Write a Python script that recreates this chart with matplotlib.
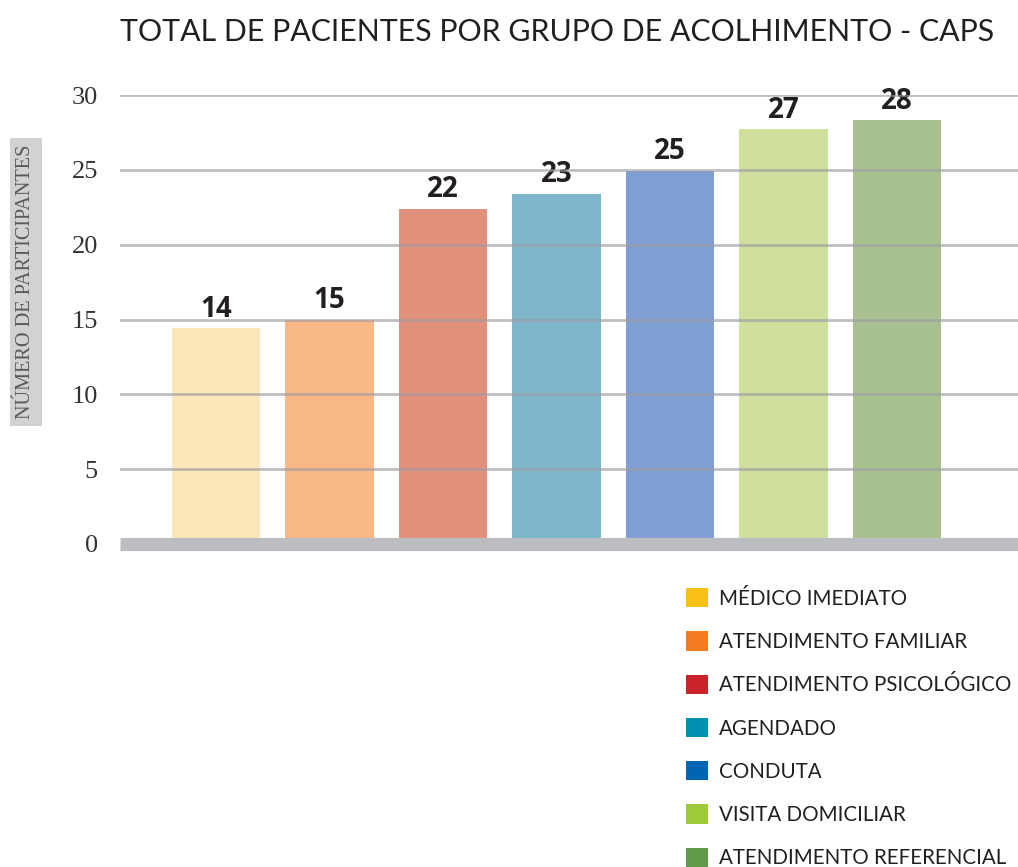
import matplotlib.pyplot as plt
from matplotlib.patches import Patch
import numpy as np

# categories, printed values and bar heights as drawn in the picture
categories = ["MÉDICO IMEDIATO", "ATENDIMENTO FAMILIAR", "ATENDIMENTO PSICOLÓGICO",
              "AGENDADO", "CONDUTA", "VISITA DOMICILIAR", "ATENDIMENTO REFERENCIAL"]
labels = [14, 15, 22, 23, 25, 27, 28]
heights = [14.4, 15.0, 22.4, 23.4, 24.9, 27.7, 28.3]
bar_colors = ["#FBE7B9", "#F9B885", "#E0907B", "#7EB6CC", "#7F9ED3", "#CEE09B", "#A9C191"]
legend_colors = ["#F9C018", "#F47B20", "#CC2229", "#0090B0", "#0066B3", "#9DCB3C", "#5E9A47"]
yticks = [0, 5, 10, 15, 20, 25, 30]

fig = plt.figure(figsize=(10.18, 8.67), dpi=100)
ax = fig.add_axes([120 / 1018, 1 - 544 / 867, 1 - 120 / 1018, 449 / 867])

x = np.arange(len(categories))
ax.bar(x, heights, width=0.78, color=bar_colors, zorder=2)

for xi, h, lab in zip(x, heights, labels):
    ax.annotate(str(lab), (xi, h), xytext=(0, 3.5), textcoords="offset points",
                ha="center", va="bottom", fontsize=20, fontweight="bold",
                color="#231f20", family="Open Sans")

# grid lines over the bars
for t in yticks[1:]:
    ax.axhline(t, color="#9d9ca3", lw=2, alpha=0.65, zorder=3)
# thick grey base line
ax.axhline(0, color="#BCBDC1", lw=9.5, zorder=4, clip_on=False, solid_capstyle="butt")

ax.set_xlim(-0.846, 7.066)
ax.set_ylim(0, 30)
ax.set_xticks([])
ax.set_yticks(yticks)
ax.set_yticklabels([str(t) for t in yticks], family="Liberation Serif",
                   fontsize=19, color="#333333")
ax.tick_params(axis="y", length=0, pad=16)
for s in ax.spines.values():
    s.set_visible(False)

fig.text(557 / 1018, 1 - 32 / 867, "TOTAL DE PACIENTES POR GRUPO DE ACOLHIMENTO - CAPS",
         ha="center", va="center", fontsize=21.8, color="#231f20", family="Lato")

fig.text(26 / 1018, 1 - 282 / 867, "NÚMERO DE PARTICIPANTES", rotation=90,
         ha="center", va="center", fontsize=14.6, color="#58595b",
         family="Liberation Serif",
         bbox=dict(facecolor="#D1D2D4", edgecolor="none", pad=5))

handles = [Patch(facecolor=c, edgecolor="none") for c in legend_colors]
fig.legend(handles, categories, loc="upper left",
           bbox_to_anchor=(686 / 1018, 1 - 588 / 867),
           frameon=False, prop={"family": "Lato", "size": 14.8},
           handlelength=1.07, handleheight=1.07, handletextpad=0.55,
           labelspacing=1.1, borderaxespad=0, borderpad=0, labelcolor="#231f20")

plt.savefig("out.png", dpi=100)
plt.close()
